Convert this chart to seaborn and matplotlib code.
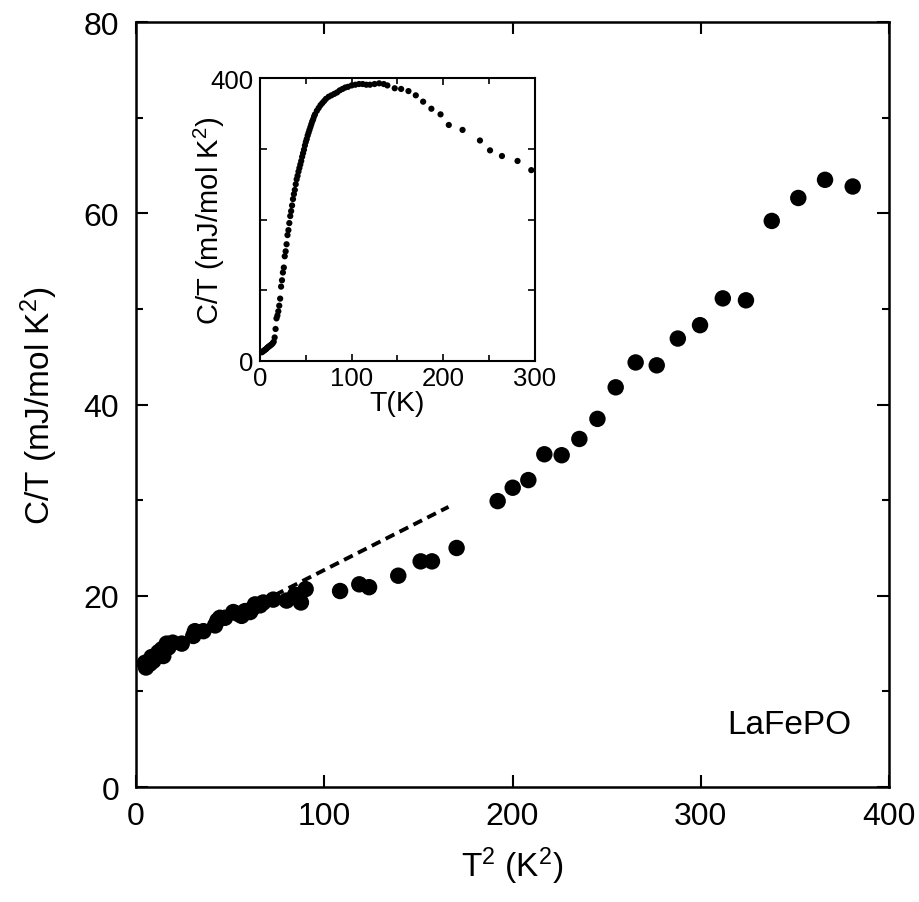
# LaFePO specific heat: C/T vs T^2 with inset C/T vs T
import pandas as pd
import matplotlib
matplotlib.use("Agg")
import matplotlib.pyplot as plt
from matplotlib.ticker import MultipleLocator
import seaborn as sns

# main panel data
main_T2 = [4.8, 5.3, 7.4, 8.3, 9.2, 11.9, 13.7, 14.5, 16.3, 17.2, 19.5, 24.3, 30.4, 31.3,
           35.8, 42.0, 43.2, 44.6, 47.3, 51.7, 54.3, 56.1, 57.9, 60.6, 61.5, 63.2, 65.9,
           67.6, 72.9, 80.0, 84.5, 87.6, 90.1, 108.4, 118.6, 123.8, 139.3, 151.2, 157.2,
           170.3, 192.1, 200.1, 208.4, 216.9, 226.1, 235.5, 245.1, 254.8, 265.4, 276.6,
           287.8, 299.6, 311.7, 324.0, 337.7, 351.8, 366.0, 380.7]
main_CT = [13.0, 12.5, 12.9, 13.6, 13.2, 14.1, 14.4, 13.7, 15.0, 14.6, 15.1, 15.0, 15.8, 16.3,
           16.3, 16.9, 17.4, 17.7, 17.7, 18.3, 18.1, 17.9, 18.4, 18.3, 18.6, 19.1, 19.0,
           19.3, 19.6, 19.5, 20.1, 19.3, 20.7, 20.5, 21.2, 20.9, 22.1, 23.6, 23.6,
           25.0, 29.9, 31.3, 32.1, 34.8, 34.7, 36.4, 38.5, 41.8, 44.4, 44.1,
           46.9, 48.3, 51.1, 50.9, 59.2, 61.6, 63.5, 62.8]

# linear fit gamma + beta*T^2 (dashed)
fit_T2 = [0, 166]
fit_CT = [12.7, 29.3]

# inset data: C/T vs T
inset_T = [2, 3, 4, 5, 6, 7, 8, 9, 10, 11, 12, 13, 14, 15, 16, 17, 18, 19, 20, 21, 22, 23,
           24, 25, 26, 27, 28, 29, 30, 31, 32, 33, 34, 35, 36, 37, 38, 39, 40, 41, 42, 43,
           44, 45, 46, 47, 48, 49, 50, 51, 52, 53, 54, 55, 56, 57, 58, 59, 60, 62, 64, 66,
           68, 70, 72, 75, 78, 81, 84, 87, 90, 93, 96, 100, 104, 108, 112, 116, 120, 125,
           130, 135, 139, 147, 154, 162, 170, 178, 187, 197, 206, 221, 240, 251, 264, 281, 296]
inset_CT = [12, 13, 14, 15, 16, 17, 18.5, 19.5, 20.5, 21.5, 22.5, 23.5, 25, 27, 33, 45, 60,
            64, 70, 78, 88, 105, 114, 125, 132, 148, 155, 165, 178, 185, 195, 205, 212, 220,
            229, 236, 242, 250, 257, 262, 268, 273, 278, 283, 289, 294, 299, 305, 310, 314,
            319, 323, 327, 331, 335, 339, 342, 346, 349, 354, 358, 362, 365, 368, 371, 374,
            376, 378, 380, 383, 385, 387, 388, 390, 391, 392, 392, 391, 391, 392, 393, 392,
            390, 386, 385, 382, 376, 367, 357, 349, 334, 327, 312, 298, 290, 283, 270]

main_df = pd.DataFrame({"T2": main_T2, "CT": main_CT})
fit_df = pd.DataFrame({"T2": fit_T2, "CT": fit_CT})
inset_df = pd.DataFrame({"T": inset_T, "CT": inset_CT})

sns.set_style("ticks")
plt.rcParams["font.family"] = ["Liberation Sans", "DejaVu Sans"]
plt.rcParams["mathtext.fontset"] = "custom"
plt.rcParams["mathtext.rm"] = "Liberation Sans"
plt.rcParams["mathtext.it"] = "Liberation Sans"
for key in ["text.color", "axes.labelcolor", "xtick.color", "ytick.color", "axes.edgecolor"]:
    plt.rcParams[key] = "black"

fig = plt.figure(figsize=(9.19, 9.03), dpi=100)
ax = fig.add_axes([0.148, 0.1273, 0.8194, 0.8472])

sns.lineplot(data=fit_df, x="T2", y="CT", ax=ax, color="black", lw=2.8,
             dashes=False, linestyle=(0, (2.5, 1.5)))
sns.scatterplot(data=main_df, x="T2", y="CT", ax=ax, color="black", s=140,
                edgecolor="none")

ax.set_xlim(0, 400)
ax.set_ylim(0, 80)
ax.xaxis.set_major_locator(MultipleLocator(100))
ax.yaxis.set_major_locator(MultipleLocator(20))
ax.yaxis.set_minor_locator(MultipleLocator(10))
ax.tick_params(which="both", direction="in", top=True, right=True, width=1.5,
               labelsize=23)
ax.tick_params(which="major", length=8.5)
ax.tick_params(which="minor", length=5)
ax.tick_params(axis="x", pad=10)
ax.tick_params(axis="y", pad=12)
for sp in ax.spines.values():
    sp.set_linewidth(1.8)
ax.set_xlabel("T$^2$ (K$^2$)", fontsize=24, labelpad=10)
ax.set_ylabel("C/T (mJ/mol K$^2$)", fontsize=24, labelpad=17)
ax.text(0.868, 0.082, "LaFePO", transform=ax.transAxes, fontsize=24,
        ha="center", va="center")

# inset
axi = fig.add_axes([0.2829, 0.5994, 0.2992, 0.3127])
sns.scatterplot(data=inset_df, x="T", y="CT", ax=axi, color="black", s=20,
                edgecolor="none")
axi.set_xlim(0, 300)
axi.set_ylim(0, 400)
axi.xaxis.set_major_locator(MultipleLocator(100))
axi.xaxis.set_minor_locator(MultipleLocator(50))
axi.set_yticks([0, 100, 200, 300, 400])
axi.set_yticklabels(["0", "", "", "", "400"])
axi.tick_params(which="both", direction="in", top=True, right=True, width=1.2,
                labelsize=18.5)
axi.tick_params(which="major", length=5)
axi.tick_params(which="minor", length=4)
axi.tick_params(axis="x", pad=4)
axi.tick_params(axis="y", pad=5)
for sp in axi.spines.values():
    sp.set_linewidth(1.5)
axi.set_xlabel("T(K)", fontsize=20.5, labelpad=0)
axi.set_ylabel("C/T (mJ/mol K$^2$)", fontsize=21, labelpad=-12)

fig.savefig("out.png", dpi=100)
